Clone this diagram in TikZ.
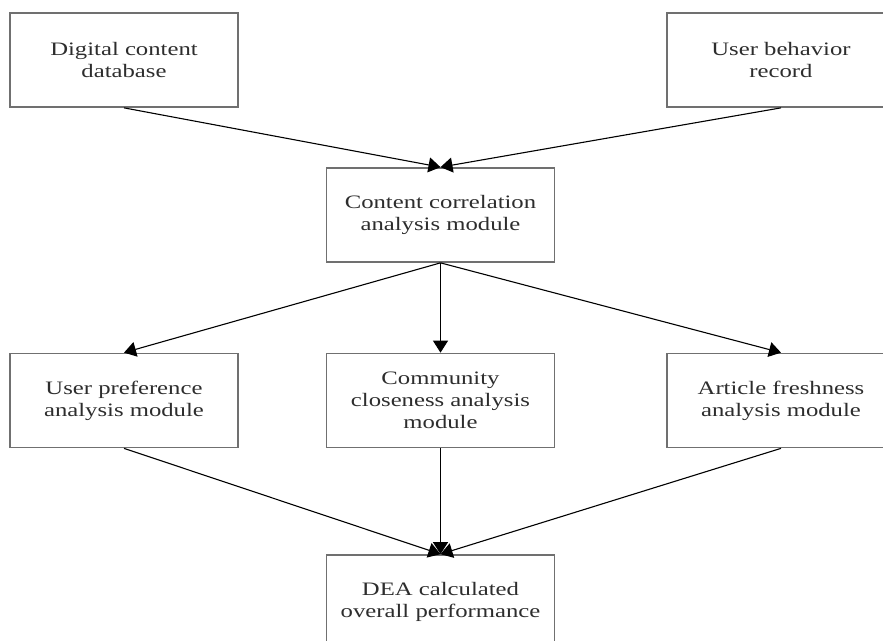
\documentclass[tikz,border=0pt]{standalone}
\usepackage{fontspec}
\setmainfont[FakeStretch=1.3]{Liberation Serif}
\usepackage{xcolor}
\usetikzlibrary{arrows.meta, positioning}
\definecolor{boxgray}{RGB}{112,112,112}
\definecolor{textgray}{RGB}{45,45,45}

\begin{document}
\begin{tikzpicture}[x=1pt, y=-1pt,
    modbox/.style={draw=boxgray, line width=1.7pt, minimum width=228pt, minimum height=94pt,
        align=center, inner sep=0pt, text=textgray, font=\fontsize{19}{22}\selectfont},
    flow/.style={line width=1.1pt, -{Triangle[length=12pt, width=15pt]}}]
        % Frame
        \useasboundingbox (0,0) rectangle (883,640);
        \clip (0,0) rectangle (883,640);

        % Inputs
        \node[modbox] (digdb) at (124, 60)  {Digital content\\database};
        \node[modbox] (ubrec) at (781, 60)  {User behavior\\record};

        % Correlation
        \node[modbox] (corr)  at (440.5, 215) {Content correlation\\analysis module};

        % Analysis modules
        \node[modbox] (upref) at (124, 400.5) {User preference\\analysis module};
        \node[modbox] (comm)  at (440.5, 400.5) {Community\\closeness analysis\\module};
        \node[modbox] (fresh) at (781, 400.5) {Article freshness\\analysis module};

        % Output
        \node[modbox] (dea)   at (440.5, 602) {DEA calculated\\overall performance};

        % Arrows
        \draw[flow] (digdb.south) -- (corr.north);
        \draw[flow] (ubrec.south) -- (corr.north);
        \foreach \m in {upref, comm, fresh}
            \draw[flow] (corr.south) -- (\m.north);
        \foreach \m in {upref, comm, fresh}
            \draw[flow] (\m.south) -- (dea.north);
    \end{tikzpicture}
\end{document}
